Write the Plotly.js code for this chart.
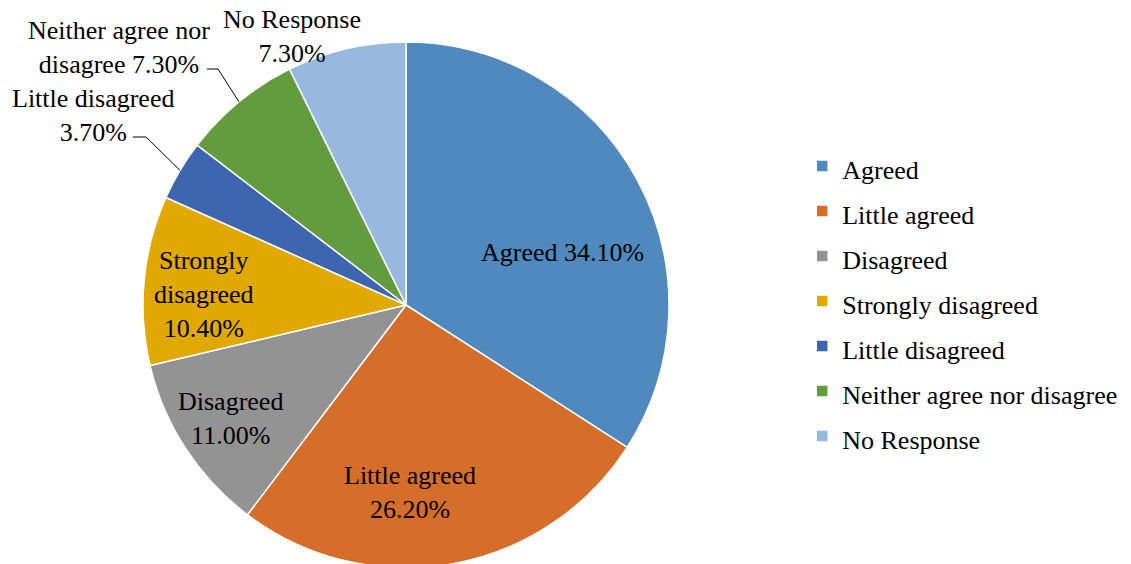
<!DOCTYPE html>
<html><head><meta charset="utf-8">
<script src="https://cdn.plot.ly/plotly-3.0.1.min.js"></script></head>
<body style="margin:0;overflow:hidden">
<div id="c" style="width:1131px;height:580px"></div>
<script>
// ---- data ----
const categories = ["Agreed", "Little agreed", "Disagreed", "Strongly disagreed", "Little disagreed", "Neither agree nor disagree", "No Response"];
const values = [34.1, 26.2, 11.0, 10.4, 3.7, 7.3, 7.3];
const sliceColors = ["#4F89BE", "#D56E2B", "#939393", "#E1A800", "#3E65AF", "#639C3E", "#97B9E0"];
// how each data label is broken into lines (text only)
const labelLines = [
  ["Agreed"], ["Little agreed"], ["Disagreed"], ["Strongly", "disagreed"],
  ["Little disagreed"], ["Neither agree nor", "disagree"], ["No Response"]
];

// ---- geometry (page pixels) ----
const W = 1131, H = 580;
const cx = 406, cy = 305, R = 263;
const FS = 26;
function px(x, y) { return [x / W, 1 - y / H]; }

// data-label positions (page pixels, centre of the text block)
const labelPos = [
  [562, 253], [410, 492], [230, 418], [204, 294],
  [93, 115], [119, 47], [292, 36]
];
// leader line start points (page px) for labels with leaders
const leaderStart = {4: [133, 137], 5: [207, 69]};
const leaderKnee = {4: [146, 137], 5: [218, 69]};

function pct(v) { return v.toFixed(2) + "%"; }
function labelText(i) {
  const lines = labelLines[i].slice();
  const last = lines.length - 1;
  if (i === 0 || i === 5) {
    lines[last] = lines[last] + " " + pct(values[i]);
  } else {
    lines.push(pct(values[i]));
  }
  return lines.join("<br>");
}

const ann = categories.map((c, i) => {
  const p = px(labelPos[i][0], labelPos[i][1]);
  return {
    xref: "paper", yref: "paper", x: p[0], y: p[1],
    xanchor: "center", yanchor: "middle", showarrow: false,
    text: labelText(i), align: "center",
    font: {family: "Liberation Serif", size: FS, color: "black"}
  };
});

// leader lines computed from slice mid angles
const total = values.reduce((a, b) => a + b, 0);
const shapes = [];
let cum = 0;
values.forEach((v, i) => {
  const mid = (cum + v / 2) / total * 2 * Math.PI;
  cum += v;
  if (leaderStart[i]) {
    const ex = cx + R * Math.sin(mid), ey = cy - R * Math.cos(mid);
    const a = px(leaderStart[i][0], leaderStart[i][1]);
    const b = px(leaderKnee[i][0], leaderKnee[i][1]);
    const e = px(ex, ey);
    shapes.push({
      type: "path", xref: "paper", yref: "paper",
      path: `M ${a[0]} ${a[1]} L ${b[0]} ${b[1]} L ${e[0]} ${e[1]}`,
      line: {color: "black", width: 1}
    });
  }
});

const legendLabels = categories.map(c => `<span style="font-size:${FS}px">${c}</span>`);

Plotly.newPlot("c", [{
  type: "pie",
  labels: legendLabels,
  values: values,
  sort: false,
  direction: "clockwise",
  rotation: 0,
  textinfo: "none",
  marker: {colors: sliceColors, line: {color: "white", width: 1.5}},
  domain: {x: [(cx - R) / W, (cx + R) / W], y: [1 - (cy + R) / H, 1 - (cy - R) / H]}
}], {
  width: W, height: H,
  margin: {l: 0, r: 0, t: 0, b: 0},
  font: {family: "Liberation Serif"},
  showlegend: true,
  legend: {
    x: 0.7093, xanchor: "left", y: 1 - 301 / H, yanchor: "middle",
    font: {family: "Liberation Serif", size: 32.3, color: "black"}
  },
  annotations: ann,
  shapes: shapes
}, {displayModeBar: false});
</script></body></html>
